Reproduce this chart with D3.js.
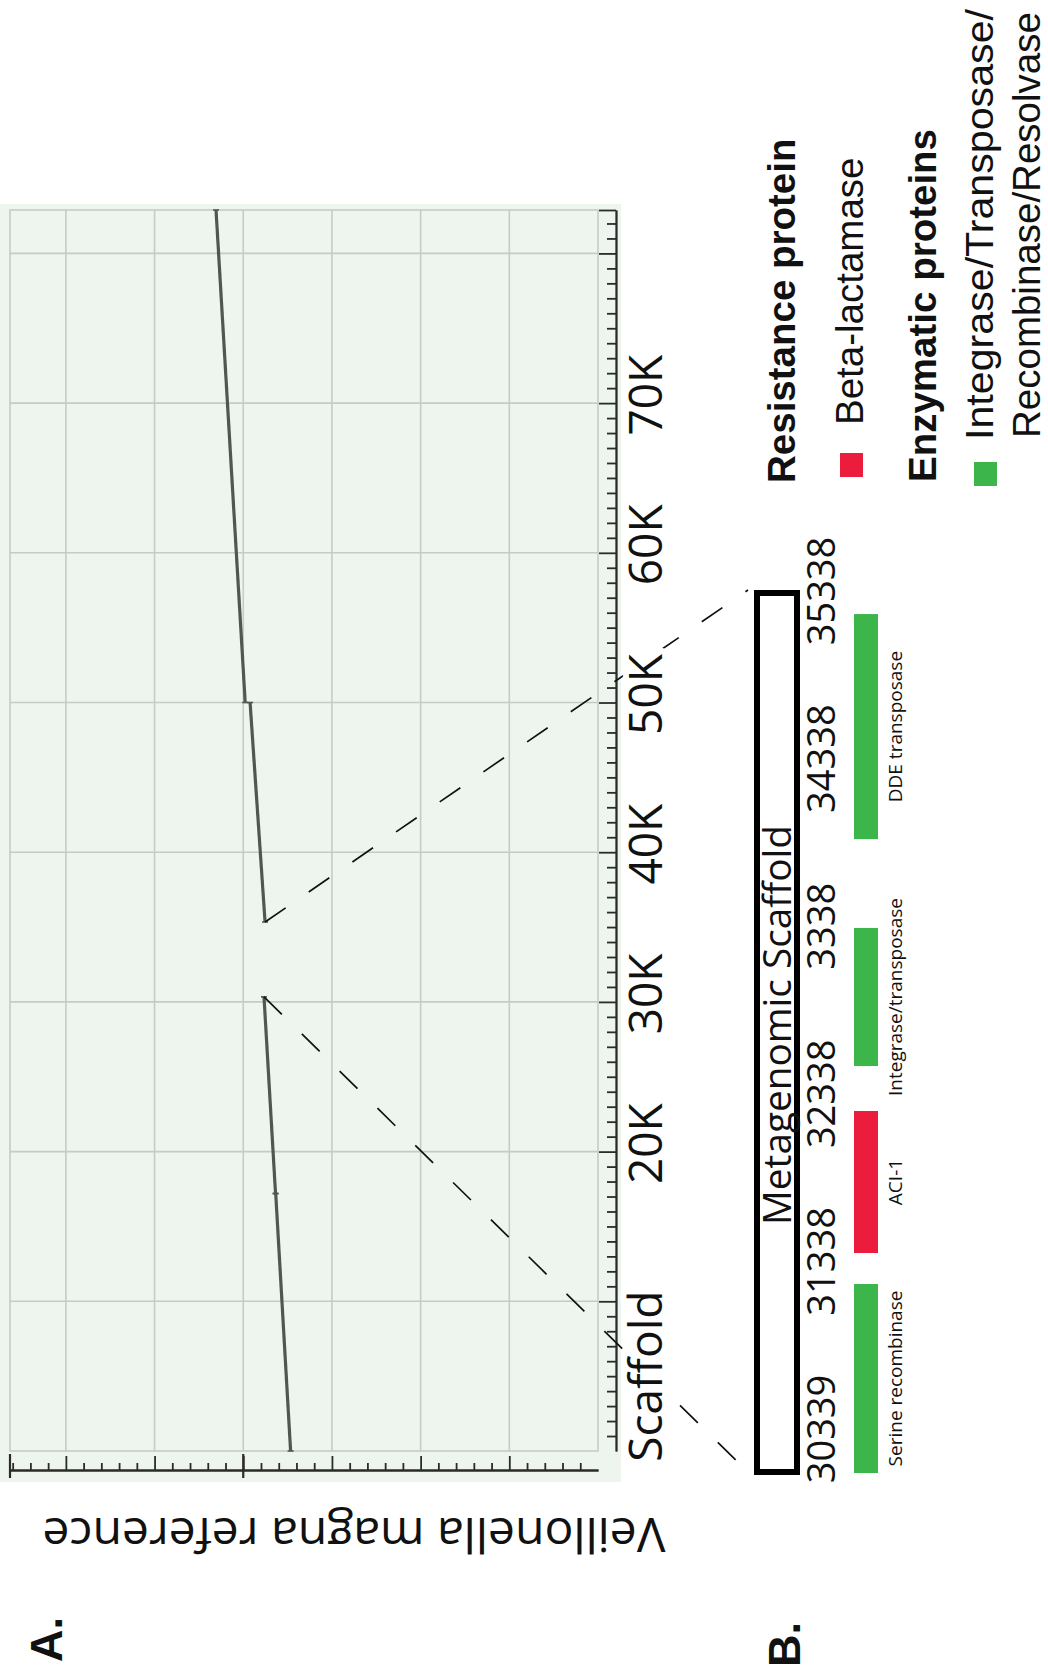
<!DOCTYPE html>
<html><head><meta charset="utf-8">
<script src="https://cdn.jsdelivr.net/npm/d3@7"></script>
<style>body{margin:0;background:#fff}svg{display:block}</style>
</head><body>
<svg id="chart" width="1048" height="1670"></svg>
<script>
// ---------------- data ----------------
const scaffoldLength = 82900;
const scaffoldGrid = [10000, 20000, 30000, 40000, 50000, 60000, 70000, 80000];
const scaffoldTickValues = [20000, 30000, 40000, 50000, 60000, 70000];
const scaffoldTickLabels = ["20K", "30K", "40K", "50K", "60K", "70K"];
const scaffoldAxisTitle = "Scaffold";

const referenceSpan = 663000;
const referenceGrid = [100000, 200000, 300000, 400000, 500000, 600000];
const referenceMarks = [400000, 663000];
const referenceAxisTitle = "Veillonella magna reference";

// alignment blocks: scaffold start/end vs reference start/end
const blockScaffoldStart = [0, 17200, 35338, 50000];
const blockScaffoldEnd   = [17200, 30339, 50000, 82900];
const blockRefStart      = [346600, 363600, 375400, 397800];
const blockRefEnd        = [363400, 376600, 392300, 430700];

// panel B window
const windowStart = 30339, windowEnd = 35338;
const windowTitle = "Metagenomic Scaffold";
const windowLabels = ["30339", "31338", "32338", "3338", "34338", "35338"];
const geneNames  = ["Serine recombinase", "ACI-1", "Integrase/transposase", "DDE transposase"];
const geneStarts = [30350, 31593, 32649, 33931];
const geneEnds   = [31418, 32395, 33429, 35202];
const geneTypes  = ["enzymatic", "resistance", "enzymatic", "enzymatic"];

const legendHeaders = ["Resistance protein", "Enzymatic proteins"];
const legendItems = [["Beta-lactamase"], ["Integrase/Transposase/", "Recombinase/Resolvase"]];
const legendTypes = ["resistance", "enzymatic"];
const panelLabels = ["A.", "B."];

// ---------------- styles ----------------
const colors = {resistance: "#ec1c3c", enzymatic: "#3cb54a"};
const SANS = "'Open Sans', 'Noto Sans', sans-serif";
const ARIAL = "'Liberation Sans', Arial, sans-serif";

const svg = d3.select("#chart");

// ---------------- panel A ----------------
const sy = d3.scaleLinear().domain([0, scaffoldLength]).range([1451, 210]);
const sx = d3.scaleLinear().domain([0, referenceSpan]).range([598, 10]);

// background
svg.append("rect").attr("x", 0).attr("y", 204).attr("width", 621).attr("height", 1278)
  .attr("fill", "#edf5ee");

const gA = svg.append("g");
// grid
gA.selectAll("line.hg").data(scaffoldGrid).join("line")
  .attr("x1", sx(referenceSpan)).attr("x2", sx(0))
  .attr("y1", d => sy(d)).attr("y2", d => sy(d))
  .attr("stroke", "#c7cac7").attr("stroke-width", 1.6);
gA.selectAll("line.vg").data(referenceGrid).join("line")
  .attr("y1", sy(scaffoldLength)).attr("y2", sy(0))
  .attr("x1", d => sx(d)).attr("x2", d => sx(d))
  .attr("stroke", "#c7cac7").attr("stroke-width", 1.6);
gA.append("rect")
  .attr("x", sx(referenceSpan)).attr("y", sy(scaffoldLength))
  .attr("width", sx(0) - sx(referenceSpan)).attr("height", sy(0) - sy(scaffoldLength))
  .attr("fill", "none").attr("stroke", "#c7cac7").attr("stroke-width", 1.6);

// scaffold axis (right side, ticks inward)
const minorScaffold = d3.range(1000, scaffoldLength, 1000).filter(v => v % 10000 !== 0);
const axS = svg.append("g").attr("transform", "translate(616,0)");
axS.call(d3.axisLeft(sy).tickValues(minorScaffold).tickSize(9).tickSizeOuter(0).tickFormat(""));
axS.append("g").call(d3.axisLeft(sy).tickValues(scaffoldGrid.concat([scaffoldLength])).tickSize(17).tickSizeOuter(0).tickFormat(""));
axS.selectAll("path,line").attr("stroke", "#2b2b2b").attr("stroke-width", 1.8);

// reference axis (bottom, ticks upward)
const minorRef = d3.range(20000, referenceSpan, 20000).filter(v => v % 100000 !== 0);
const axR = svg.append("g").attr("transform", "translate(0,1470)");
axR.call(d3.axisTop(sx).tickValues(minorRef).tickSize(7).tickSizeOuter(0).tickFormat(""));
axR.append("g").call(d3.axisTop(sx).tickValues(referenceGrid).tickSize(14).tickSizeOuter(0).tickFormat(""));
axR.selectAll("path,line").attr("stroke", "#2b2b2b").attr("stroke-width", 1.8);
axR.selectAll("line.mark").data(referenceMarks).join("line").attr("class", "mark")
  .attr("x1", d => sx(d)).attr("x2", d => sx(d)).attr("y1", -16).attr("y2", 8)
  .attr("stroke", "#2b2b2b").attr("stroke-width", 2.2);

// alignment blocks
const blocks = blockScaffoldStart.map((s, i) => ({
  s0: s, s1: blockScaffoldEnd[i], r0: blockRefStart[i], r1: blockRefEnd[i]
}));
const line = d3.line().x(d => sx(d[1])).y(d => sy(d[0]));
gA.selectAll("path.block").data(blocks).join("path").attr("class", "block")
  .attr("d", d => line([[d.s0, d.r0], [d.s1, d.r1]]))
  .attr("stroke", "#4f5751").attr("stroke-width", 3.2).attr("fill", "none");
gA.selectAll("line.cap").data(blocks.flatMap(d => [[d.s0, d.r0], [d.s1, d.r1]])).join("line")
  .attr("x1", d => sx(d[1]) - 3).attr("x2", d => sx(d[1]) + 3)
  .attr("y1", d => sy(d[0])).attr("y2", d => sy(d[0]))
  .attr("stroke", "#4f5751").attr("stroke-width", 1.6);

// ---------------- panel B ----------------
const sb = d3.scaleLinear().domain([windowStart, windowEnd]).range([1475, 590]);

// dashed connectors
const conn = [
  {from: [sx(blockRefEnd[1]), sy(blockScaffoldEnd[1])], to: [751, sb(windowStart)]},
  {from: [sx(blockRefStart[2]), sy(blockScaffoldStart[2])], to: [748, sb(windowEnd)]}
];
svg.selectAll("line.conn").data(conn).join("line")
  .attr("x1", d => d.from[0]).attr("y1", d => d.from[1])
  .attr("x2", d => d.to[0]).attr("y2", d => d.to[1])
  .attr("stroke", "#111").attr("stroke-width", 1.7).attr("stroke-dasharray", "25,28");

// scaffold tick labels (white halo knocks out the connector dashes)
svg.selectAll("text.stl").data(scaffoldTickValues).join("text")
  .attr("transform", d => `translate(662,${sy(d) - 8}) rotate(-90)`)
  .attr("text-anchor", "middle").attr("font-family", SANS).attr("font-size", 46)
  .attr("fill", "#111").attr("stroke", "#fff").attr("stroke-width", 12)
  .attr("paint-order", "stroke").attr("stroke-linejoin", "round")
  .text((d, i) => scaffoldTickLabels[i]);
svg.append("text")
  .attr("transform", `translate(662,${(sy(0) + sy(10000)) / 2}) rotate(-90)`)
  .attr("text-anchor", "middle").attr("font-family", SANS).attr("font-size", 46)
  .attr("fill", "#111").attr("stroke", "#fff").attr("stroke-width", 12)
  .attr("paint-order", "stroke").attr("stroke-linejoin", "round")
  .text(scaffoldAxisTitle);

// reference axis title (upside down)
svg.append("text")
  .attr("transform", `translate(${(sx(0) + sx(referenceSpan)) / 2 + 50},1518) rotate(180)`)
  .attr("text-anchor", "middle").attr("font-family", SANS).attr("font-size", 47)
  .attr("textLength", 623).attr("lengthAdjust", "spacingAndGlyphs")
  .attr("fill", "#111").text(referenceAxisTitle);

// box
svg.append("rect").attr("x", 757).attr("y", sb(windowEnd) + 3)
  .attr("width", 40).attr("height", sb(windowStart) - sb(windowEnd) - 6)
  .attr("fill", "#fff").attr("stroke", "#000").attr("stroke-width", 6);
svg.append("text")
  .attr("transform", `translate(791,1025) rotate(-90)`)
  .attr("text-anchor", "middle").attr("font-family", SANS).attr("font-size", 38)
  .attr("textLength", 400).attr("lengthAdjust", "spacingAndGlyphs")
  .attr("fill", "#111").text(windowTitle);

// coordinate labels
const sp = d3.scalePoint().domain(windowLabels).range([1429, 591]);
svg.selectAll("text.wl").data(windowLabels).join("text")
  .attr("transform", d => `translate(835,${sp(d)}) rotate(-90)`)
  .attr("text-anchor", "middle").attr("font-family", SANS).attr("font-size", 38)
  .attr("fill", "#111").text(d => d);

// genes
const genes = geneNames.map((n, i) => ({name: n, s: geneStarts[i], e: geneEnds[i], t: geneTypes[i]}));
svg.selectAll("rect.gene").data(genes).join("rect")
  .attr("x", 854).attr("width", 24)
  .attr("y", d => sb(d.e)).attr("height", d => sb(d.s) - sb(d.e))
  .attr("fill", d => colors[d.t]);
svg.selectAll("text.gl").data(genes).join("text")
  .attr("transform", d => `translate(902,${(sb(d.s) + sb(d.e)) / 2}) rotate(-90)`)
  .attr("text-anchor", "middle").attr("font-family", SANS).attr("font-size", 19)
  .attr("fill", "#111").text(d => d.name);

// legend
const legHeaderX = [795, 936];
const legSwatchX = [840, 974];
const legSwatchY = [453, 462];
const legTextX = [[863], [993, 1040]];
const legTextY = [[425], [440, 438]];
const legTextLen = [[null], [431, null]];
const legHeaderY = [483, 482];
legendHeaders.forEach((h, i) => {
  svg.append("text").attr("transform", `translate(${legHeaderX[i]},${legHeaderY[i]}) rotate(-90)`)
    .attr("font-family", ARIAL).attr("font-weight", "bold").attr("font-size", 38.5)
    .attr("fill", "#111").text(h);
  svg.append("rect").attr("x", legSwatchX[i]).attr("y", legSwatchY[i])
    .attr("width", 23).attr("height", 24).attr("fill", colors[legendTypes[i]]);
  legendItems[i].forEach((t, j) => {
    const tx = svg.append("text").attr("transform", `translate(${legTextX[i][j]},${legTextY[i][j]}) rotate(-90)`)
      .attr("font-family", ARIAL).attr("font-size", 38.5).attr("fill", "#111").text(t);
    if (legTextLen[i][j]) tx.attr("textLength", legTextLen[i][j]).attr("lengthAdjust", "spacingAndGlyphs");
  });
});

// panel labels
const panelPos = [[62, 1662], [800, 1667]];
panelLabels.forEach((p, i) => {
  svg.append("text").attr("transform", `translate(${panelPos[i][0]},${panelPos[i][1]}) rotate(-90)`)
    .attr("font-family", ARIAL).attr("font-weight", "bold").attr("font-size", 45)
    .attr("fill", "#111").text(p);
});
</script>
</body></html>
